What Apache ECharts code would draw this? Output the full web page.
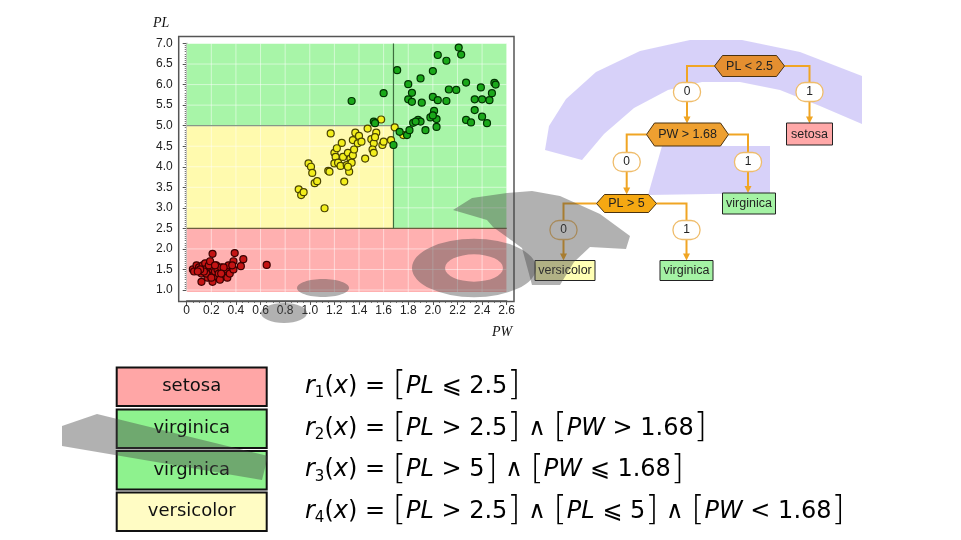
<!DOCTYPE html>
<html><head><meta charset="utf-8">
<script src="https://cdn.jsdelivr.net/npm/echarts@6/dist/echarts.min.js"></script>
<style>html,body{margin:0;padding:0;background:#fff}#c{width:961px;height:540px}</style>
</head><body><div id="c"></div>
<script>
// ---------- data (PW, PL) ----------
const setosa = [[0.05,1.5],[0.06,1.45],[0.08,1.6],[0.1,1.55],[0.12,1.4],[0.13,1.6],[0.15,1.65],[0.15,1.5],[0.17,1.3],[0.18,1.45],
  [0.19,1.55],[0.2,1.6],[0.2,1.4],[0.21,1.5],[0.22,1.35],[0.22,1.55],[0.23,1.45],[0.24,1.6],[0.25,1.3],[0.25,1.5],
  [0.26,1.4],[0.18,1.6],[0.16,1.4],[0.14,1.45],[0.12,1.2],[0.11,1.5],[0.28,1.55],[0.3,1.45],[0.31,1.35],[0.32,1.5],
  [0.33,1.3],[0.34,1.6],[0.35,1.4],[0.3,1.55],[0.27,1.25],[0.21,1.2],[0.2,1.3],[0.19,1.7],[0.38,1.5],[0.38,1.7],
  [0.39,1.9],[0.37,1.6],[0.44,1.58],[0.46,1.75],[0.65,1.61],[0.21,1.88],[0.21,0.93],[0.09,1.45],[0.28,1.4],[0.23,1.6]];
const versicolor = [[1.17,4.81],[0.91,3.45],[0.93,3.31],[0.95,3.38],[0.99,4.08],[1.01,4.0],[1.02,3.85],[1.04,3.6],[1.06,3.65],[1.12,2.99],
  [1.15,3.9],[1.16,3.88],[1.28,3.64],[1.26,4.58],[1.2,4.34],[1.21,4.24],[1.2,4.08],[1.23,4.1],[1.27,4.24],[1.25,4.02],
  [1.3,4.04],[1.32,3.88],[1.31,4.34],[1.33,4.2],[1.34,4.1],[1.35,4.28],[1.36,4.42],[1.35,4.65],[1.37,4.83],[1.4,4.75],
  [1.39,4.57],[1.42,4.61],[1.45,4.2],[1.47,4.93],[1.5,4.67],[1.52,4.57],[1.51,4.42],[1.52,4.34],[1.54,4.83],[1.53,4.72],
  [1.58,5.15],[1.59,4.53],[1.6,4.61],[1.66,4.65],[1.69,4.96],[1.76,4.77],[1.31,4.0],[1.22,4.45]];
const virginica = [[1.34,5.6],[1.6,5.79],[1.52,5.1],[1.53,5.06],[1.71,6.35],[1.73,4.85],[1.79,4.77],[1.8,6.01],[1.83,5.8],[1.8,5.64],
  [1.83,5.58],[1.81,4.89],[1.84,5.07],[1.88,5.14],[1.9,5.1],[1.9,6.15],[1.91,5.56],[1.94,4.89],[2.0,6.33],[2.0,5.7],
  [2.04,5.62],[1.98,5.2],[2.01,5.36],[2.03,5.16],[2.03,4.97],[2.04,6.72],[2.11,6.58],[2.11,5.6],[2.13,5.88],[2.19,5.87],
  [2.21,6.9],[2.23,6.73],[2.27,6.05],[2.27,5.14],[2.31,5.08],[2.34,5.64],[2.34,5.38],[2.39,5.93],[2.4,5.64],[2.4,5.22],
  [2.44,5.06],[2.46,5.62],[2.48,5.79],[2.5,6.04],[2.51,6.0],[1.68,4.53],[2.0,5.25],[1.86,5.1]];
const xTicks = [0,0.2,0.4,0.6,0.8,1.0,1.2,1.4,1.6,1.8,2.0,2.2,2.4,2.6];
const yTicks = [1.0,1.5,2.0,2.5,3.0,3.5,4.0,4.5,5.0,5.5,6.0,6.5,7.0];
// decision regions: [PW from, PW to, PL from, PL to, class index]
const classes = ['setosa','versicolor','virginica'];
const regions = [[0,2.6,0.95,2.5,0],[0,1.68,2.5,5.0,1],[1.68,2.6,2.5,7.0,2],[0,1.68,5.0,7.0,2]];
const splitPL1 = 2.5, splitPW = 1.68, splitPL2 = 5.0;
// tree texts
const treeSplits = ['PL < 2.5','PW > 1.68','PL > 5'];
const treeLeaves = ['setosa','virginica','versicolor','virginica'];
const branchLabels = ['0','1'];
// rules
const rules = [
  {label:'setosa', cls:0, conds:[['PL','⩽','2.5']]},
  {label:'virginica', cls:2, conds:[['PL','>','2.5'],['PW','>','1.68']]},
  {label:'virginica', cls:2, conds:[['PL','>','5'],['PW','⩽','1.68']]},
  {label:'versicolor', cls:1, conds:[['PL','>','2.5'],['PL','⩽','5'],['PW','<','1.68']]}
];

// ---------- styles ----------
const regionFill = ['#ffb0b0','#fffaae','#a8f5a8'];
const pointFill = ['#c41414','#f2ee1c','#1aa81a'];
const pointBorder = ['#3a0000','#4a4400','#003300'];
const leafFill = {setosa:'#ffa8a8', virginica:'#a4f2a4', versicolor:'#ffffb4'};
const boxFill = ['#ffa6a6','#fffcc4','#8ef28e'];
const orange = '#f0a524';
const wmGray = 'rgba(70,70,70,0.42)';
const wmLav = 'rgba(150,135,240,0.38)';

const chart = echarts.init(document.getElementById('c'));

function renderRegion(params, api){
  const x0=api.value(0), x1=api.value(1), y0=api.value(2), y1=api.value(3);
  const tl = api.coord([x0,y1]), br = api.coord([x1,y0]);
  const ch = [{type:'rect', shape:{x:tl[0],y:tl[1],width:br[0]-tl[0],height:br[1]-tl[1]}, style:{fill:regionFill[api.value(4)]}}];
  xTicks.forEach(t=>{ if(t>=x0-1e-9 && t<=x1+1e-9){ const a=api.coord([t,y0]), b=api.coord([t,y1]);
    ch.push({type:'line', shape:{x1:a[0],y1:a[1],x2:b[0],y2:b[1]}, style:{stroke:'rgba(255,255,255,0.5)',lineWidth:1}}); }});
  yTicks.forEach(t=>{ if(t>=y0-1e-9 && t<=y1+1e-9){ const a=api.coord([x0,t]), b=api.coord([x1,t]);
    ch.push({type:'line', shape:{x1:a[0],y1:a[1],x2:b[0],y2:b[1]}, style:{stroke:'rgba(255,255,255,0.5)',lineWidth:1}}); }});
  return {type:'group', children:ch};
}

// ---------- graphics ----------
const G = [];
// lavender watermark part (under the tree)
G.push({type:'polygon', shape:{points:[[545,150],[549,126],[566,99],[596,72],[640,51],[690,40],[742,40],[800,52],[862,76],[862,124],[820,106],[780,90],[740,82],[702,82],[668,90],[634,108],[604,134],[582,160]]}, style:{fill:wmLav}, z:0, silent:true});
G.push({type:'polygon', shape:{points:[[662,146],[770,146],[770,193],[648,195]]}, style:{fill:wmLav}, z:0, silent:true});

G.push({type:'rect', shape:{x:178.7,y:36.5,width:335.3,height:265}, style:{fill:'none',stroke:'#555',lineWidth:1.5}, z:10});
G.push({type:'text', x:153, y:16, style:{text:'PL', font:'italic 14px "Liberation Serif"', fill:'#111'}});
G.push({type:'text', x:492, y:325, style:{text:'PW', font:'italic 14px "Liberation Serif"', fill:'#111'}});

function hexPts(cx,cy,w,h){const d=8;return [[cx-w/2,cy],[cx-w/2+d,cy-h/2],[cx+w/2-d,cy-h/2],[cx+w/2,cy],[cx+w/2-d,cy+h/2],[cx-w/2+d,cy+h/2]];}
const splitLayout = [
  {x:749.5,y:66,w:70,h:21,fill:'#e48f30', bx:[687,809.5], oy:92, childTop:[123.5,123.5]},
  {x:687.5,y:134.5,w:82,h:23,fill:'#eea030', bx:[626.7,748], oy:162, childTop:[194.5,193]},
  {x:626.5,y:203.5,w:60,h:18,fill:'#f5a812', bx:[563.5,686.5], oy:230, childTop:[260.5,260.5]}
];
const leafLayout = [ {x:809.5,y:134,w:46,h:22}, {x:749,y:203.5,w:53,h:21}, {x:565,y:270.5,w:60,h:20}, {x:686.5,y:270.5,w:53,h:20} ];
splitLayout.forEach((s,i)=>{
  [0,1].forEach(k=>{
    const ex = k===0 ? s.x-s.w/2 : s.x+s.w/2;
    const bx = s.bx[k];
    G.push({type:'polyline', shape:{points:[[ex,s.y],[bx,s.y],[bx,s.oy-9.5]]}, style:{stroke:orange,lineWidth:2,fill:'none'}, z:3});
    G.push({type:'line', shape:{x1:bx,y1:s.oy+9.5,x2:bx,y2:s.childTop[k]-5}, style:{stroke:orange,lineWidth:2}, z:3});
    G.push({type:'polygon', shape:{points:[[bx-3.5,s.childTop[k]-7],[bx+3.5,s.childTop[k]-7],[bx,s.childTop[k]]]}, style:{fill:orange}, z:3});
    G.push({type:'rect', shape:{x:bx-13.5,y:s.oy-9.5,width:27,height:19,r:9}, style:{fill:'#fff',stroke:'#efbc6a',lineWidth:1.3}, z:5});
    G.push({type:'text', x:bx, y:s.oy, style:{text:branchLabels[k], font:'12px "Liberation Sans"', fill:'#222', align:'center', verticalAlign:'middle'}, z:6});
  });
  G.push({type:'polygon', shape:{points:hexPts(s.x,s.y,s.w,s.h)}, style:{fill:s.fill,stroke:'#4a3210',lineWidth:1}, z:5});
  G.push({type:'text', x:s.x, y:s.y+0.5, style:{text:treeSplits[i], font:'12.5px "Liberation Sans"', fill:'#222', align:'center', verticalAlign:'middle'}, z:6});
});
leafLayout.forEach((l,i)=>{
  G.push({type:'rect', shape:{x:l.x-l.w/2,y:l.y-l.h/2,width:l.w,height:l.h}, style:{fill:leafFill[treeLeaves[i]],stroke:'#222',lineWidth:1}, z:5});
  G.push({type:'text', x:l.x, y:l.y+0.5, style:{text:treeLeaves[i], font:'12.5px "Liberation Sans"', fill:'#222', align:'center', verticalAlign:'middle'}, z:6});
});

const rowTop = [367.5,409.5,451,492.5];
const rich = {
  i:{fontFamily:'DejaVu Sans', fontStyle:'italic', fontSize:24, color:'#111'},
  n:{fontFamily:'DejaVu Sans', fontSize:24, color:'#111'},
  s:{fontFamily:'DejaVu Sans', fontSize:15, color:'#111', padding:[14,0,0,0]},
  b:{fontFamily:'DejaVu Sans', fontSize:34, fontWeight:'lighter', color:'#111'}
};
rules.forEach((r,k)=>{
  const y0 = rowTop[k];
  G.push({type:'rect', shape:{x:116.7,y:y0,width:150,height:38.5}, style:{fill:boxFill[r.cls],stroke:'#111',lineWidth:2}, z:5});
  G.push({type:'text', x:191.7, y:y0+19, style:{text:r.label, font:'18px "DejaVu Sans"', fill:'#111', align:'center', verticalAlign:'middle'}, z:6});
  const parts = r.conds.map(c=>`{b|[}{i|${c[0]}}{n| ${c[1]} ${c[2]}}{b|]}`);
  const txt = `{i|r}{s|${k+1}}{n|(}{i|x}{n|) = }` + parts.join('{n| ∧ }');
  G.push({type:'text', x:305, y:y0+19, style:{text:txt, rich:rich, verticalAlign:'middle'}, z:6});
});

// gray watermark part (over everything)
G.push({type:'ellipse', shape:{cx:323,cy:288,rx:26,ry:9}, style:{fill:wmGray}, z:100, silent:true});
G.push({type:'ellipse', shape:{cx:284,cy:313,rx:23,ry:10}, style:{fill:wmGray}, z:100, silent:true});
G.push({type:'ring', x:474, y:268, scaleY:0.47, shape:{cx:0,cy:0,r:62,r0:29}, style:{fill:wmGray}, z:100, silent:true});
G.push({type:'polygon', shape:{points:[[453,210],[472,198],[507,193],[532,191],[560,196],[600,214],[630,236],[626,249],[590,247],[574,262],[560,285],[532,285],[522,248],[493,227],[487,220]]}, style:{fill:wmGray}, z:100, silent:true});
G.push({type:'polygon', shape:{points:[[62,426],[97,414],[268,456],[262,480],[62,446]]}, style:{fill:wmGray}, z:100, silent:true});

chart.setOption({
  animation:false,
  backgroundColor:'#fff',
  grid:{left:186.7, top:43.5, width:320, height:246.5},
  xAxis:{type:'value', min:0, max:2.6, interval:0.2, offset:11,
    axisLine:{lineStyle:{color:'#555',width:1.5}}, axisTick:{length:4,lineStyle:{color:'#555'}},
    minorTick:{show:true,splitNumber:4,length:2,lineStyle:{color:'#777'}},
    axisLabel:{margin:4, fontSize:12, fontFamily:'Liberation Sans', color:'#222', formatter:v=>v===0?'0':v.toFixed(1)},
    splitLine:{show:false}},
  yAxis:{type:'value', min:1, max:7, interval:0.5, offset:8,
    axisLine:{lineStyle:{color:'#555',width:1.5}}, axisTick:{length:4,lineStyle:{color:'#555'}},
    minorTick:{show:true,splitNumber:10,length:2,lineStyle:{color:'#777'}},
    axisLabel:{margin:6, fontSize:12, fontFamily:'Liberation Sans', color:'#222', formatter:v=>v.toFixed(1)},
    splitLine:{show:false}},
  series:[
    {type:'custom', renderItem:renderRegion, data:regions, encode:{x:[0,1],y:[2,3]}, z:1, silent:true, clip:false},
    {type:'line', data:[[0,splitPL1],[2.6,splitPL1]], symbol:'none', lineStyle:{color:'#6e5e3e',width:1.2}, z:3, silent:true},
    {type:'line', data:[[0,splitPL2],[splitPW,splitPL2]], symbol:'none', lineStyle:{color:'#889888',width:1.2}, z:3, silent:true},
    {type:'line', data:[[splitPW,splitPL1],[splitPW,7]], symbol:'none', lineStyle:{color:'#3e6e3e',width:1.2}, z:3, silent:true},
    {type:'scatter', data:setosa, symbolSize:7, itemStyle:{color:pointFill[0],borderColor:pointBorder[0],borderWidth:1.2,opacity:1}, z:4},
    {type:'scatter', data:versicolor, symbolSize:7, itemStyle:{color:pointFill[1],borderColor:pointBorder[1],borderWidth:1.2,opacity:1}, z:4},
    {type:'scatter', data:virginica, symbolSize:7, itemStyle:{color:pointFill[2],borderColor:pointBorder[2],borderWidth:1.2,opacity:1}, z:4}
  ],
  graphic:G
});
</script></body></html>
